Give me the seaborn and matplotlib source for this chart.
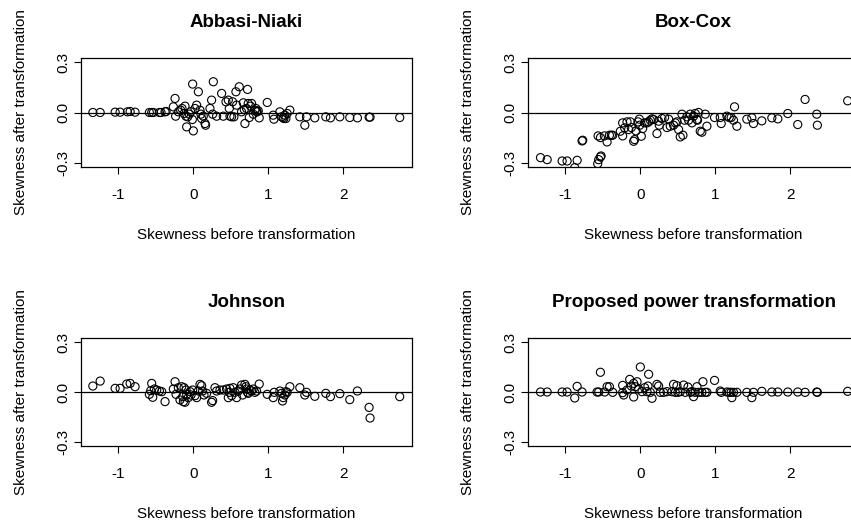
import matplotlib
matplotlib.use("Agg")
import matplotlib.pyplot as plt
import seaborn as sns
import numpy as np

sns.set_theme(style="white")
plt.rcParams['font.family'] = ['Liberation Sans', 'DejaVu Sans']
plt.rcParams['axes.unicode_minus'] = False
plt.rcParams['text.color'] = 'black'
plt.rcParams['axes.labelcolor'] = 'black'
plt.rcParams['xtick.color'] = 'black'
plt.rcParams['ytick.color'] = 'black'

# ---------------- data ----------------
# Abbasi-Niaki
an_x = [-1.342, -1.244, -1.044, -0.978, -0.880, -0.844, -0.778, -0.587, -0.556, -0.533,
        -0.453, -0.431, -0.378, -0.364, -0.244, -0.267, -0.236, -0.200, -0.169, -0.151,
        -0.124, -0.111, -0.098, -0.089, -0.076, -0.053, -0.036, -0.009, -0.013, 0.000,
        0.022, 0.044, 0.067, 0.089, 0.102, 0.111, 0.133, 0.156, 0.164, 0.222,
        0.244, 0.267, 0.258, 0.311, 0.378, 0.400, 0.436, 0.467, 0.480, 0.489,
        0.511, 0.524, 0.542, 0.569, 0.578, 0.613, 0.644, 0.667, 0.680, 0.689,
        0.711, 0.724, 0.733, 0.747, 0.764, 0.778, 0.800, 0.822, 0.836, 0.844,
        0.853, 0.867, 0.880, 0.987, 1.067, 1.076, 1.156, 1.178, 1.200, 1.209,
        1.222, 1.236, 1.253, 1.289, 1.422, 1.489, 1.511, 1.622, 1.769, 1.831,
        1.956, 2.089, 2.191, 2.347, 2.360, 2.756]
an_y = [0.000, 0.000, 0.002, 0.002, 0.004, 0.006, 0.002, 0.000, 0.000, 0.000,
        0.000, 0.000, 0.004, 0.006, 0.084, 0.034, -0.022, 0.004, 0.014, 0.024,
        -0.006, 0.038, -0.022, -0.086, -0.026, -0.010, 0.004, 0.170, -0.042, -0.110,
        0.024, 0.044, 0.124, 0.014, -0.010, -0.036, -0.022, -0.066, -0.076, 0.024,
        0.074, 0.184, -0.010, -0.022, 0.114, -0.022, 0.064, 0.074, 0.024, -0.022,
        -0.026, 0.064, -0.026, 0.124, 0.044, 0.154, 0.004, 0.058, 0.018, -0.066,
        0.024, 0.138, 0.054, -0.030, 0.038, 0.054, -0.010, 0.014, 0.024, 0.008,
        0.004, 0.010, -0.032, 0.060, -0.016, -0.040, 0.004, -0.026, -0.030, -0.036,
        -0.016, -0.036, -0.006, 0.014, -0.026, -0.076, -0.026, -0.032, -0.026, -0.032,
        -0.026, -0.030, -0.032, -0.028, -0.028, -0.030]

# Box-Cox
bc_x = [-1.333, -1.244, -1.044, -0.978, -0.844, -0.876, -0.778, -0.769, -0.569, -0.556,
        -0.533, -0.524, -0.564, -0.533, -0.480, -0.444, -0.413, -0.387, -0.369, -0.267,
        -0.236, -0.236, -0.209, -0.178, -0.156, -0.133, -0.120, -0.089, -0.076, -0.058,
        -0.031, -0.013, -0.009, 0.013, 0.031, 0.058, 0.089, 0.111, 0.133, 0.156,
        0.178, 0.222, 0.244, 0.253, 0.289, 0.324, 0.356, 0.378, 0.400, 0.444,
        0.467, 0.489, 0.511, 0.533, 0.556, 0.569, 0.591, 0.622, 0.644, 0.667,
        0.689, 0.711, 0.733, 0.756, 0.764, 0.778, 0.800, 0.867, 0.889, 0.822,
        0.991, 1.067, 1.080, 1.156, 1.187, 1.213, 1.244, 1.258, 1.289, 1.422,
        1.489, 1.511, 1.622, 1.756, 1.836, 1.969, 2.102, 2.200, 2.356, 2.364,
        2.769]
bc_y = [-0.270, -0.282, -0.290, -0.290, -0.286, -0.330, -0.170, -0.166, -0.306, -0.282,
        -0.266, -0.260, -0.140, -0.150, -0.140, -0.176, -0.136, -0.136, -0.136, -0.112,
        -0.140, -0.062, -0.092, -0.056, -0.102, -0.056, -0.090, -0.172, -0.162, -0.110,
        -0.056, -0.040, -0.076, -0.142, -0.096, -0.062, -0.062, -0.056, -0.046, -0.038,
        -0.042, -0.126, -0.052, -0.076, -0.036, -0.030, -0.090, -0.040, -0.082, -0.076,
        -0.062, -0.056, -0.102, -0.146, -0.010, -0.136, -0.046, -0.026, -0.046, -0.010,
        -0.062, -0.022, -0.006, -0.042, -0.046, 0.000, -0.112, -0.010, -0.082, -0.118,
        -0.030, -0.030, -0.066, -0.022, -0.030, -0.030, -0.046, 0.034, -0.082, -0.040,
        -0.032, -0.066, -0.050, -0.032, -0.038, -0.006, -0.072, 0.078, -0.010, -0.076,
        0.070]

# Johnson
jo_x = [-1.342, -1.244, -1.044, -0.978, -0.889, -0.844, -0.778, -0.587, -0.569, -0.556,
        -0.542, -0.520, -0.489, -0.453, -0.422, -0.378, -0.267, -0.244, -0.231, -0.200,
        -0.178, -0.156, -0.142, -0.133, -0.124, -0.111, -0.098, -0.089, -0.067, -0.044,
        -0.031, -0.009, 0.022, 0.044, 0.067, 0.089, 0.111, 0.124, 0.142, 0.178,
        0.244, 0.258, 0.289, 0.311, 0.356, 0.400, 0.444, 0.467, 0.480, 0.489,
        0.511, 0.533, 0.556, 0.578, 0.600, 0.622, 0.644, 0.658, 0.689, 0.702,
        0.711, 0.724, 0.733, 0.756, 0.778, 0.800, 0.822, 0.844, 0.880, 0.987,
        1.067, 1.080, 1.156, 1.178, 1.191, 1.200, 1.222, 1.236, 1.253, 1.289,
        1.422, 1.489, 1.511, 1.622, 1.769, 1.831, 1.956, 2.089, 2.191, 2.347,
        2.360, 2.756]
jo_y = [0.036, 0.066, 0.022, 0.022, 0.048, 0.052, 0.032, -0.014, 0.008, 0.052,
        -0.032, 0.018, 0.012, 0.006, 0.002, -0.058, 0.018, 0.062, -0.014, 0.026,
        -0.048, 0.032, -0.028, -0.058, 0.026, -0.062, 0.012, -0.014, -0.034, 0.002,
        -0.018, 0.012, -0.022, -0.034, 0.006, 0.046, 0.038, 0.006, -0.018, -0.008,
        -0.062, -0.052, 0.026, 0.006, 0.012, 0.012, 0.018, -0.034, -0.002, 0.022,
        -0.022, 0.026, -0.002, -0.034, 0.006, 0.018, 0.042, -0.018, 0.046, 0.032,
        0.018, -0.002, -0.008, 0.012, 0.006, 0.018, -0.002, 0.006, 0.048, -0.014,
        -0.034, -0.002, 0.006, -0.008, -0.054, -0.034, -0.018, 0.002, -0.002, 0.032,
        0.026, -0.018, -0.002, -0.026, -0.008, -0.028, -0.010, -0.046, 0.006, -0.093,
        -0.157, -0.028]

# Proposed power transformation
pp_x = [-1.333, -1.244, -1.044, -0.978, -0.876, -0.844, -0.778, -0.578, -0.556, -0.533,
        -0.476, -0.444, -0.413, -0.369, -0.236, -0.236, -0.222, -0.178, -0.142, -0.120,
        -0.089, -0.067, -0.044, -0.089, -0.022, 0.000, 0.022, 0.058, 0.089, 0.102,
        0.111, 0.133, 0.156, 0.222, 0.244, 0.267, 0.311, 0.356, 0.422, 0.444,
        0.467, 0.489, 0.502, 0.533, 0.578, 0.600, 0.636, 0.667, 0.689, 0.711,
        0.733, 0.756, 0.778, 0.822, 0.836, 0.867, 0.889, 0.991, 1.067, 1.080,
        1.156, 1.187, 1.213, 1.222, 1.244, 1.289, 1.422, 1.489, 1.511, 1.622,
        1.756, 1.836, 1.969, 2.102, 2.200, 2.356, 2.364, 2.769]
pp_y = [0.000, 0.000, 0.000, 0.000, -0.036, 0.034, 0.000, 0.000, 0.000, 0.119,
        0.000, 0.032, 0.032, -0.002, -0.004, 0.040, -0.018, 0.012, 0.076, 0.036,
        0.052, 0.032, 0.062, -0.030, 0.018, 0.151, 0.002, 0.026, 0.002, 0.036,
        0.107, -0.002, -0.038, 0.046, 0.036, -0.002, -0.002, 0.002, 0.002, 0.046,
        -0.002, 0.038, -0.002, 0.002, 0.042, -0.002, 0.030, -0.002, 0.002, -0.028,
        -0.002, 0.032, -0.002, -0.002, 0.062, -0.002, -0.002, 0.070, 0.006, -0.002,
        0.000, -0.002, -0.002, -0.034, -0.002, -0.002, -0.002, -0.034, -0.002, 0.004,
        0.000, 0.000, 0.000, 0.000, -0.002, 0.000, -0.002, 0.004]

titles = ["Abbasi-Niaki", "Box-Cox", "Johnson", "Proposed power transformation"]
series = [(an_x, an_y), (bc_x, bc_y), (jo_x, jo_y), (pp_x, pp_y)]
x_ticks = [-1, 0, 1, 2]
y_ticks = [-0.3, 0.0, 0.3]
y_tick_labels = ["-0.3", "0.0", "0.3"]
x_label = "Skewness before transformation"
y_label = "Skewness after transformation"

# ---------------- figure ----------------
W, H = 851, 523
fig = plt.figure(figsize=(W / 100, H / 100), dpi=100)
fig.patch.set_facecolor("white")

# axes boxes in pixels: (left, top, width, height)
boxes = [(81, 58, 331, 109), (528, 58, 331, 109),
         (81, 338, 331, 108), (528, 338, 331, 108)]

fs = 11
for (bx, by, bw, bh), title, (xs, ys) in zip(boxes, titles, series):
    ax = fig.add_axes([bx / W, 1 - (by + bh) / H, bw / W, bh / H])
    ax.set_facecolor("white")
    sns.scatterplot(x=xs, y=ys, ax=ax, marker="o", s=34,
                    facecolors="none", edgecolor="black", linewidth=0.8,
                    legend=False, clip_on=True)
    ax.axhline(0, color="black", linewidth=0.9, zorder=1)
    ax.set_xlim(-1.50, 2.92)
    ax.set_ylim(-0.326, 0.326)
    ax.set_xticks(x_ticks)
    ax.set_xticklabels([str(t) for t in x_ticks], fontsize=fs)
    ax.set_yticks(y_ticks)
    ax.set_yticklabels(y_tick_labels, fontsize=fs, rotation=90, va="center")
    ax.tick_params(axis="both", direction="out", length=5, width=0.8,
                   colors="black", bottom=True, left=True)
    ax.tick_params(axis="x", pad=10)
    ax.tick_params(axis="y", pad=3)
    for sp in ax.spines.values():
        sp.set_visible(True)
        sp.set_color("black")
        sp.set_linewidth(0.9)
    ax.set_xlabel(x_label, fontsize=fs, labelpad=19, color="black")
    ax.set_ylabel(y_label, fontsize=fs, labelpad=20, color="black")
    ax.set_title(title, fontsize=13.5, fontweight="bold", pad=22, color="black")
    ax.grid(False)

fig.savefig("out.png", dpi=100, facecolor="white")
